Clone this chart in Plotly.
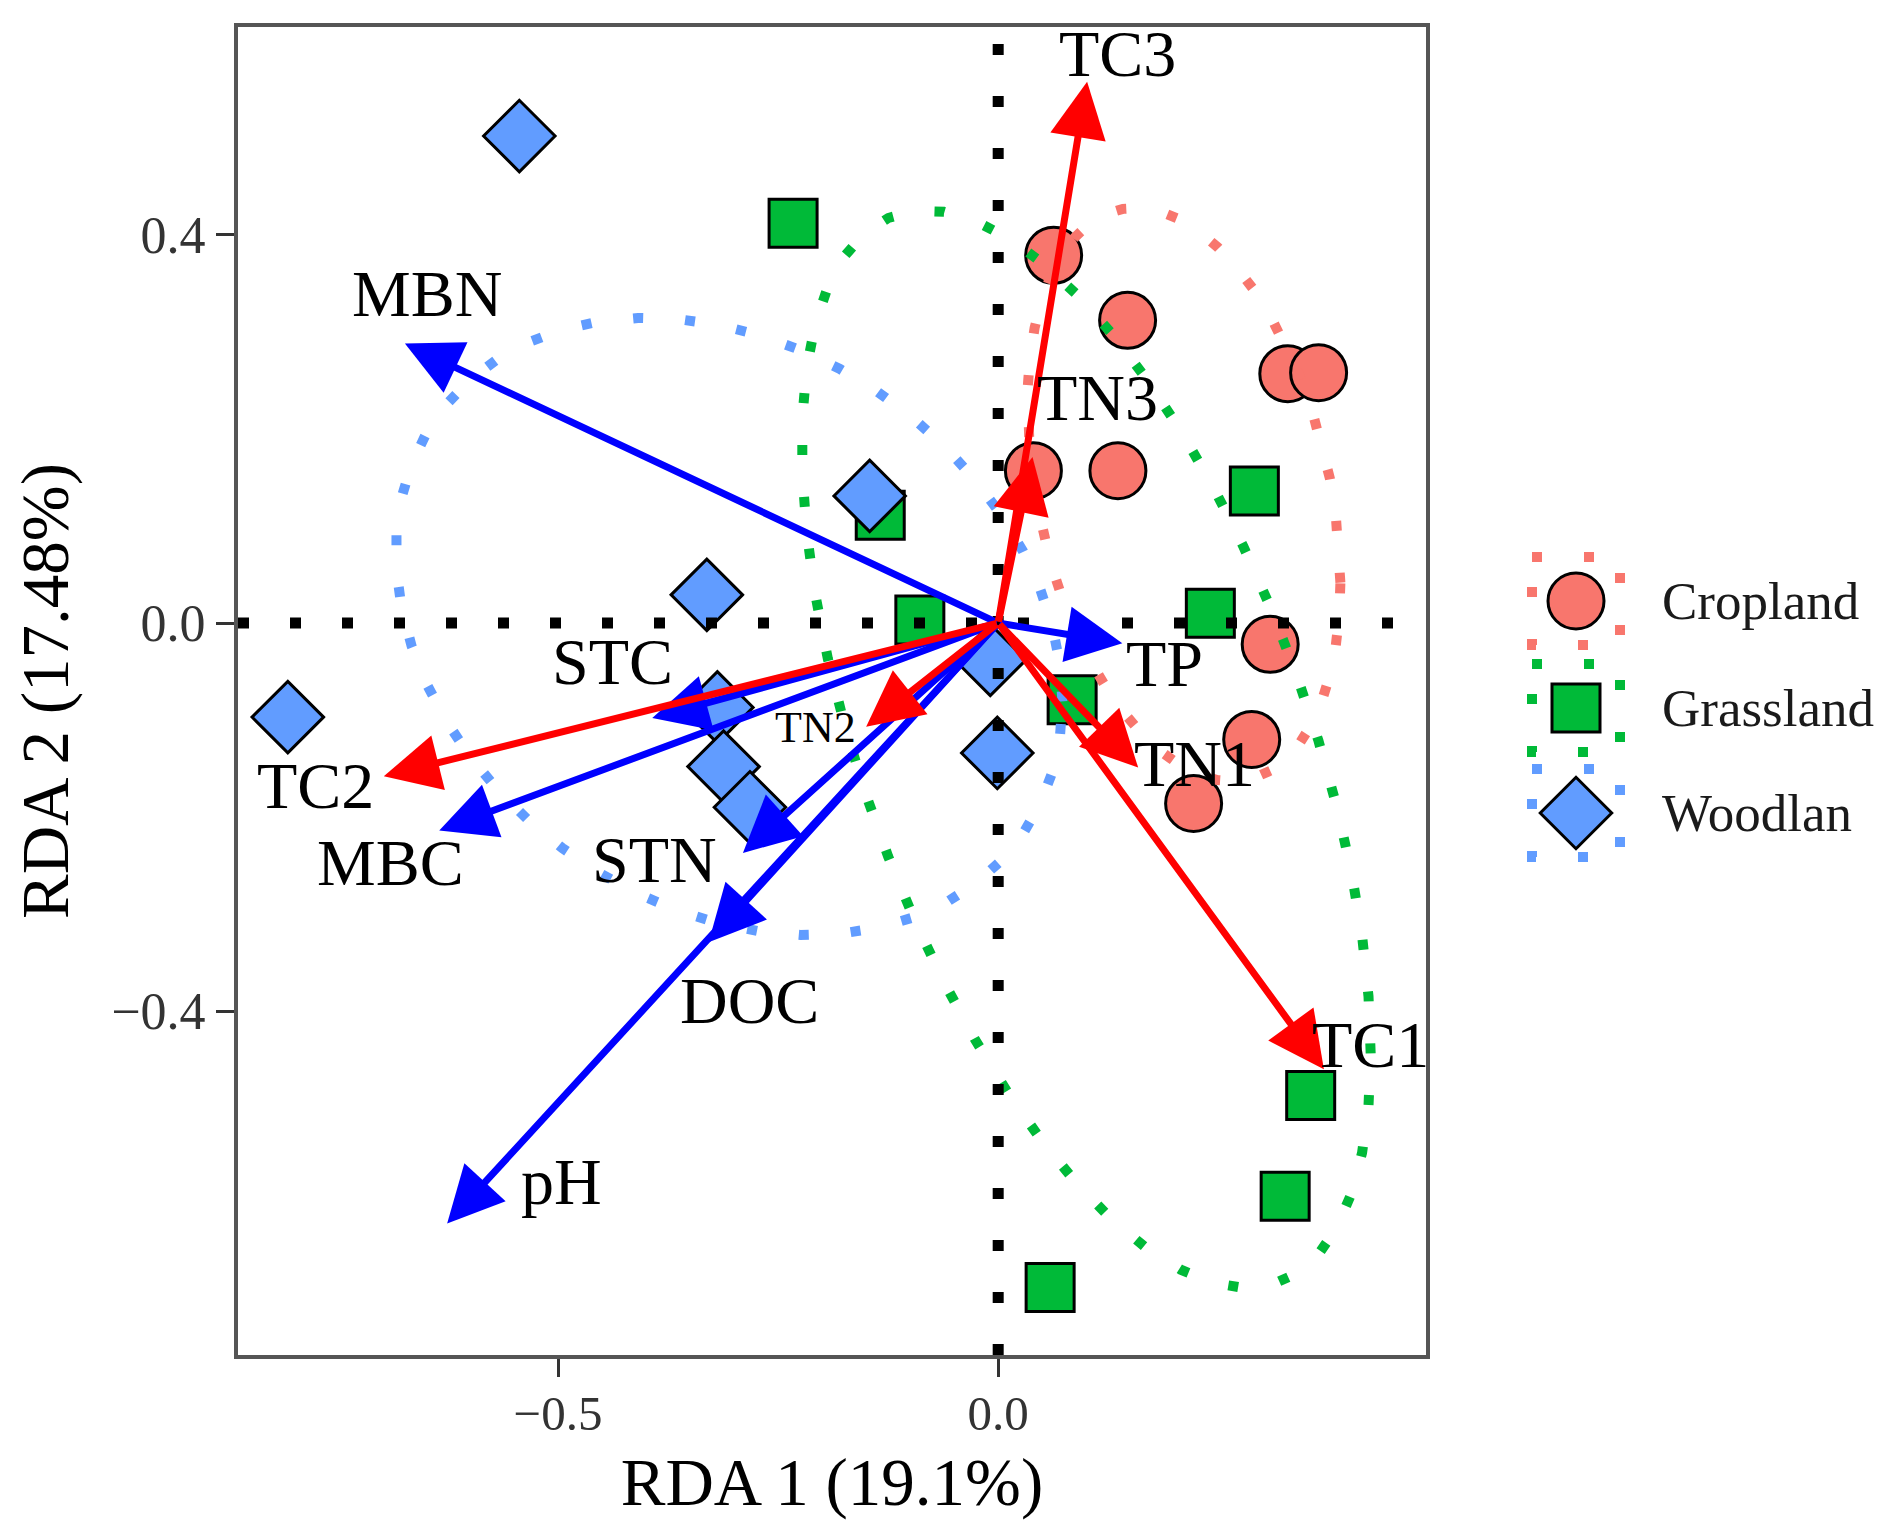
import numpy as np
import plotly.graph_objects as go

# ---------------- data ----------------
group_names = ["Cropland", "Grassland", "Woodlan"]
group_fill = ["#F8766D", "#00BA38", "#619CFF"]
group_symbol = ["circle", "square", "diamond"]
group_size = [56, 48, 55]

crop_x = [0.063, 0.147, 0.329, 0.364, 0.040, 0.136, 0.309, 0.288, 0.222]
crop_y = [0.379, 0.312, 0.257, 0.258, 0.157, 0.157, -0.022, -0.120, -0.186]
grass_x = [-0.233, 0.291, -0.134, -0.089, 0.241, 0.084, 0.355, 0.326, 0.059]
grass_y = [0.412, 0.136, 0.111, 0.003, 0.010, -0.079, -0.487, -0.591, -0.685]
wood_x = [-0.544, -0.146, -0.331, -0.807, -0.319, -0.312, -0.282, -0.009, -0.001]
wood_y = [0.502, 0.131, 0.029, -0.097, -0.087, -0.148, -0.190, -0.038, -0.134]

blue_names = ["MBN", "TP", "STC", "MBC", "STN", "DOC", "pH"]
blue_x = [-0.674, 0.141, -0.393, -0.635, -0.290, -0.329, -0.626]
blue_y = [0.288, -0.021, -0.098, -0.214, -0.237, -0.329, -0.619]
blue_lab_x = [-0.649, 0.189, -0.438, -0.690, -0.390, -0.282, -0.496]
blue_lab_y = [0.340, -0.042, -0.040, -0.247, -0.244, -0.389, -0.576]

red_names = ["TC3", "TN3", "TC2", "TN2", "TN1", "TC1"]
red_x = [0.101, 0.039, -0.698, -0.150, 0.159, 0.370]
red_y = [0.558, 0.171, -0.158, -0.107, -0.149, -0.460]
red_lab_x = [0.136, 0.113, -0.775, -0.208, 0.223, 0.423]
red_lab_y = [0.587, 0.232, -0.167, -0.108, -0.145, -0.435]
red_lab_size = [66, 66, 66, 44, 66, 66]

x_title = "RDA 1 (19.1%)"
y_title = "RDA 2 (17.48%)"
x_ticks = [-0.5, 0.0]
y_ticks = [-0.4, 0.0, 0.4]
x_range = [-0.8636, 0.4860]
y_range = [-0.7546, 0.6144]

FONT = "Liberation Serif"
ELLIPSE_LEVEL = 0.625


# ---------------- stat_ellipse (type = "norm") ----------------
def stat_ellipse(xs, ys, level=0.95, segments=51):
    pts = np.column_stack([xs, ys])
    n = len(xs)
    center = pts.mean(axis=0)
    cov = np.cov(pts, rowvar=False)          # unbiased, like cov.wt
    dfd = n - 1
    fq = (dfd / 2.0) * ((1 - level) ** (-2.0 / dfd) - 1)  # qf(level, 2, dfd)
    radius = np.sqrt(2 * fq)
    L = np.linalg.cholesky(cov)
    ang = np.arange(segments + 1) * 2 * np.pi / segments
    circ = np.column_stack([np.cos(ang), np.sin(ang)])
    ell = center + radius * (circ @ L.T)
    return ell[:, 0], ell[:, 1]


fig = go.Figure()

groups_x = [crop_x, grass_x, wood_x]
groups_y = [crop_y, grass_y, wood_y]

# points
for i in range(3):
    fig.add_trace(go.Scatter(
        x=groups_x[i], y=groups_y[i], mode="markers", name=group_names[i],
        showlegend=False,
        marker=dict(symbol=group_symbol[i], size=group_size[i], color=group_fill[i],
                    line=dict(color="black", width=3)),
    ))

DOT = "10px,42px"
# ellipses (dotted)
for i in range(3):
    ex, ey = stat_ellipse(groups_x[i], groups_y[i], level=ELLIPSE_LEVEL)
    fig.add_trace(go.Scatter(
        x=ex, y=ey, mode="lines", showlegend=False, hoverinfo="skip",
        line=dict(color=group_fill[i], width=10, dash=DOT),
    ))

ARW = 7
ARS = 1.6
annotations = []
for i in range(len(blue_names)):
    annotations.append(dict(
        x=blue_x[i], y=blue_y[i], ax=0, ay=0, xref="x", yref="y", axref="x", ayref="y",
        text="", showarrow=True, arrowhead=2, arrowsize=ARS, arrowwidth=ARW,
        arrowcolor="#0000FF", standoff=0,
    ))
for i in range(len(red_names)):
    annotations.append(dict(
        x=red_x[i], y=red_y[i], ax=0, ay=0, xref="x", yref="y", axref="x", ayref="y",
        text="", showarrow=True, arrowhead=2, arrowsize=ARS, arrowwidth=ARW,
        arrowcolor="#FF0000", standoff=0,
    ))
for i in range(len(blue_names)):
    annotations.append(dict(
        x=blue_lab_x[i], y=blue_lab_y[i], xref="x", yref="y", text=blue_names[i],
        showarrow=False, font=dict(family=FONT, size=66, color="black"),
        xanchor="center", yanchor="middle",
    ))
for i in range(len(red_names)):
    annotations.append(dict(
        x=red_lab_x[i], y=red_lab_y[i], xref="x", yref="y", text=red_names[i],
        showarrow=False, font=dict(family=FONT, size=red_lab_size[i], color="black"),
        xanchor="center", yanchor="middle",
    ))

# ---------------- geometry (page pixels; page body has an 8px margin) ----------------
W, H = 1895, 1522
OFF = 8
panel_left, panel_right, panel_top, panel_bottom = 238 - OFF, 1426 - OFF, 27 - OFF, 1355 - OFF
ml, mt, mb = panel_left, panel_top, H - panel_bottom
x_dom_end = (panel_right - ml) / (W - ml)

# ---------------- custom legend (pixel-space overlay axes) ----------------
leg_cx = 1576 - OFF
leg_cy = [601 - OFF, 708 - OFF, 813 - OFF]
leg_half = 44
leg_text_x = 1660 - OFF
for i in range(3):
    bx = [leg_cx - leg_half, leg_cx + leg_half, leg_cx + leg_half, leg_cx - leg_half, leg_cx - leg_half]
    by = [leg_cy[i] - leg_half, leg_cy[i] - leg_half, leg_cy[i] + leg_half, leg_cy[i] + leg_half,
          leg_cy[i] - leg_half]
    fig.add_trace(go.Scatter(
        x=bx, y=by, xaxis="x2", yaxis="y2", mode="lines", showlegend=False, hoverinfo="skip",
        line=dict(color=group_fill[i], width=10, dash=DOT),
    ))
    fig.add_trace(go.Scatter(
        x=[leg_cx], y=[leg_cy[i]], xaxis="x2", yaxis="y2", mode="markers", showlegend=False,
        hoverinfo="skip",
        marker=dict(symbol=group_symbol[i], size=group_size[i], color=group_fill[i],
                    line=dict(color="black", width=3)),
    ))
    annotations.append(dict(
        x=leg_text_x, y=leg_cy[i], xref="x2", yref="y2", text=group_names[i],
        showarrow=False, font=dict(family=FONT, size=53, color="#1a1a1a"),
        xanchor="left", yanchor="middle",
    ))

shapes = [
    dict(type="line", xref="x", yref="y domain", x0=0, x1=0, y0=0, y1=1, layer="above",
         line=dict(color="black", width=11, dash="11px,41px")),
    dict(type="line", xref="x domain", yref="y", x0=0, x1=1, y0=0, y1=0, layer="above",
         line=dict(color="black", width=11, dash="11px,41px")),
]

axis_common = dict(
    showgrid=False, zeroline=False, showline=True, mirror=True,
    linecolor="#555555", linewidth=4, ticks="outside", ticklen=18, tickwidth=3,
    tickcolor="#333333", tickformat=".1f",
)

fig.update_layout(
    width=W, height=H,
    margin=dict(l=ml, r=0, t=mt, b=mb),
    paper_bgcolor="white", plot_bgcolor="white",
    showlegend=False,
    font=dict(family=FONT),
    xaxis=dict(domain=[0, x_dom_end], range=x_range, tickvals=x_ticks, ticklabelstandoff=-6,
               tickfont=dict(family=FONT, size=49, color="#333333"),
               title=dict(text=x_title, font=dict(family=FONT, size=67, color="black"), standoff=19),
               **axis_common),
    yaxis=dict(domain=[0, 1], range=y_range, tickvals=y_ticks,
               tickfont=dict(family=FONT, size=52, color="#333333"),
               title=dict(text=y_title, font=dict(family=FONT, size=67, color="black"), standoff=28),
               **axis_common),
    xaxis2=dict(domain=[x_dom_end, 1], range=[panel_right, W], visible=False, anchor="y2"),
    yaxis2=dict(domain=[0, 1], range=[panel_bottom, panel_top], visible=False, anchor="x2"),
    annotations=annotations,
    shapes=shapes,
)

fig.write_html("out.html")
